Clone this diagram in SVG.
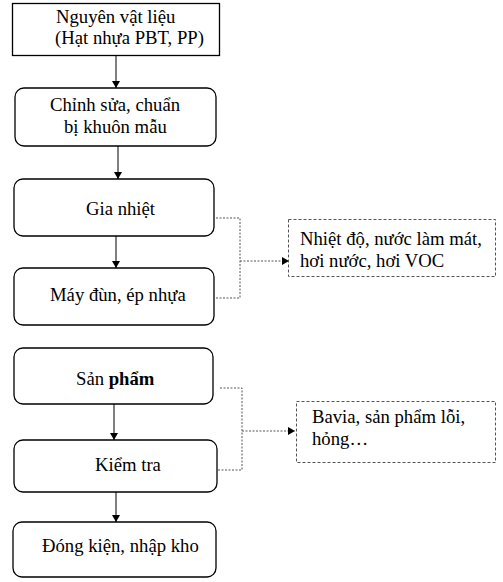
<svg xmlns="http://www.w3.org/2000/svg" width="503" height="582" viewBox="0 0 503 582">
<style>
text{font-family:"Liberation Serif","Times New Roman",serif;font-size:18.7px;fill:#000}
.box{fill:#fff;stroke:#000;stroke-width:1.3}
.note{fill:#fff;stroke:#555;stroke-width:1;stroke-dasharray:3,2}
.flow{stroke:#000;stroke-width:1;fill:none}
.dash{stroke:#555;stroke-width:1;fill:none;stroke-dasharray:2,1.5}
</style>
<defs>
<marker id="ah" markerWidth="8" markerHeight="8" refX="7" refY="4" orient="auto" markerUnits="userSpaceOnUse">
<path d="M0,0 L7,4 L0,8 Z" fill="#000"/>
</marker>
</defs>
<rect width="503" height="582" fill="#fff"/>
<g id="connectors">
<line class="flow" x1="116" y1="56" x2="116" y2="88" marker-end="url(#ah)"/>
<line class="flow" x1="118" y1="146" x2="118" y2="179" marker-end="url(#ah)"/>
<line class="flow" x1="116" y1="236" x2="116" y2="268" marker-end="url(#ah)"/>
<line class="flow" x1="114" y1="404" x2="114" y2="440" marker-end="url(#ah)"/>
<line class="flow" x1="116" y1="492" x2="116" y2="522" marker-end="url(#ah)"/>
<polyline class="dash" points="216,218 240,218 240,298 216,298"/>
<line class="dash" x1="240" y1="261" x2="289" y2="261" marker-end="url(#ah)"/>
<polyline class="dash" points="220,388 242,388 242,470 218,470"/>
<line class="dash" x1="242" y1="431" x2="295" y2="431" marker-end="url(#ah)"/>
</g>
<g id="n1"><rect class="box" x="12.5" y="3.5" width="207" height="52"/>
<text x="56" y="23">Nguyên vật liệu</text><text x="55" y="44">(Hạt nhựa PBT, PP)</text></g>
<g id="n2"><rect class="box" x="15" y="88" width="201" height="58" rx="9"/>
<text x="50" y="111">Chỉnh sửa, chuẩn</text><text x="64" y="133">bị khuôn mẫu</text></g>
<g id="n3"><rect class="box" x="14" y="179" width="200" height="57" rx="9"/>
<text x="86" y="215">Gia nhiệt</text></g>
<g id="n4"><rect class="box" x="14" y="268" width="200" height="57" rx="9"/>
<text x="50" y="301">Máy đùn, ép nhựa</text></g>
<g id="n5"><rect class="box" x="14" y="348" width="199" height="56" rx="9"/>
<text x="76" y="385">Sản <tspan font-weight="bold">phẩm</tspan></text></g>
<g id="n6"><rect class="box" x="14" y="440" width="203" height="52" rx="9"/>
<text x="95" y="471">Kiểm tra</text></g>
<g id="n7"><rect class="box" x="13" y="522" width="203" height="55" rx="9"/>
<text x="42" y="552">Đóng kiện, nhập kho</text></g>
<g id="note1"><rect class="note" x="288.5" y="219.5" width="207" height="57"/>
<text x="300" y="245">Nhiệt độ, nước làm mát,</text><text x="300" y="267">hơi nước, hơi VOC</text></g>
<g id="note2"><rect class="note" x="296.5" y="401.5" width="199" height="61"/>
<text x="312" y="423">Bavia, sản phẩm lỗi,</text><text x="312" y="445">hỏng…</text></g>
</svg>
